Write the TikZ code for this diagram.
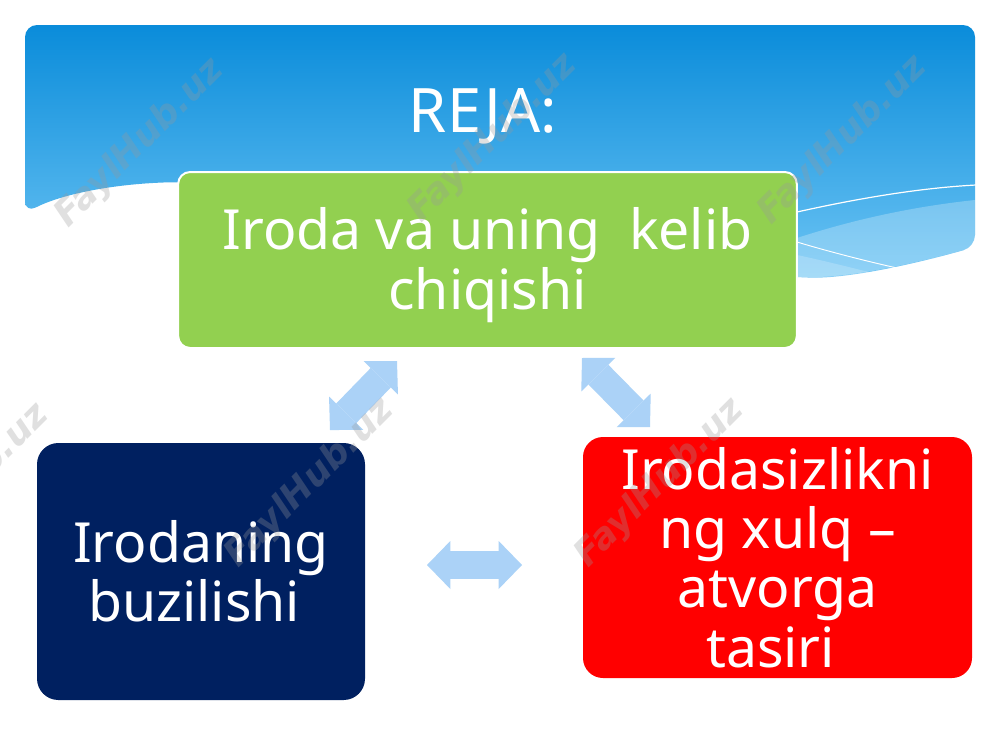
\documentclass[tikz,border=0pt]{standalone}
\usepackage{fontspec}
\setmainfont{Noto Sans}
\newfontfamily\wmfont{DejaVu Sans}
\usetikzlibrary{arrows.meta}
\definecolor{hdrtop}{HTML}{0A8CDA}
\definecolor{hdrbot}{HTML}{6CC4F4}
\definecolor{boxgreen}{HTML}{92D050}
\definecolor{boxnavy}{HTML}{002060}
\definecolor{boxred}{HTML}{FF0000}
\definecolor{arrowblue}{HTML}{ABD2F7}
\definecolor{wmgray}{HTML}{999999}
\begin{document}
\begin{tikzpicture}[x=0.75pt,y=-0.75pt,
  box/.style={rounded corners=#1, inner sep=0pt, align=center, text=white,
    font=\fontsize{41.5}{44.5}\selectfont},
  fatarrow/.style={draw=arrowblue, line width=21pt, <->,
    >={Triangle[width=36pt,length=17.5pt,line width=0pt]}},
  watermark/.style={text=wmgray, opacity=0.3, rotate=45,
    font=\wmfont\fontsize{27}{27}\selectfont\bfseries\itshape}
]
\clip (0,0) rectangle (1000,750);
\fill[white] (0,0) rectangle (1000,750);
% header
\shade[top color=hdrtop, bottom color=hdrbot, rounded corners=9pt]
  (25,213) -- (25,25) -- (975,25) -- (975,247)
  .. controls (900,268) and (840,279) .. (797,277)
  .. controls (600,272) and (350,200) .. (180,182)
  .. controls (110,184) and (60,195) .. (25,213) -- cycle;
\fill[white, opacity=0.25] (975,200) .. controls (900,208) and (840,224) .. (797,238)
  -- (797,277) .. controls (840,279) and (900,268) .. (975,247) -- cycle;
\fill[white, opacity=0.2] (797,255) .. controls (830,262) and (860,270) .. (885,276)
  .. controls (850,279) and (820,278) .. (797,277) -- cycle;
\draw[white, line width=0.9pt] (797,212) .. controls (860,198) and (920,188) .. (976,185);
\draw[white, line width=0.7pt] (797,242) .. controls (830,252) and (870,262) .. (897,268);
% title
\node[font=\fontsize{46}{50}\selectfont, text=white, anchor=base] (title) at (483,132) {REJA:};
% boxes
\node[box=9pt, fill=boxgreen, draw=white, line width=1.5pt,
  minimum width=464pt, minimum height=132pt] (green) at (487.5,260)
  {\rule{0pt}{39pt}Iroda va uning\ \ kelib\\chiqishi};
\node[box=16pt, fill=boxnavy, minimum width=246pt, minimum height=192.75pt]
  (navy) at (201,571.5) {Irodaning\\buzilishi\hspace*{0.25em}};
\node[box=15pt, fill=boxred, minimum width=291.75pt, minimum height=180.75pt]
  (red) at (777.5,557.5)
  {Irodasizlikni\\ng xulq –\\atvorga\hspace*{0.55em}\\tasiri\hspace*{0.25em}};
% arrows
\coordinate (a1s) at (330,430); \coordinate (a1e) at (397,361);
\coordinate (a2s) at (582,358); \coordinate (a2e) at (650,427);
\coordinate (a3s) at (427,565); \coordinate (a3e) at (522,565);
\draw[fatarrow] (a1s) -- (a1e);
\draw[fatarrow] (a2s) -- (a2e);
\draw[fatarrow] (a3s) -- (a3e);
% watermarks
\node[watermark] (wm1) at (140,143) {FaylHub.uz};
\node[watermark] (wm2) at (493,138) {FaylHub.uz};
\node[watermark] (wm3) at (843,140) {FaylHub.uz};
\node[watermark] (wm4) at (-35,488) {FaylHub.uz};
\node[watermark] (wm5) at (310,483) {FaylHub.uz};
\node[watermark] (wm6) at (660,483) {FaylHub.uz};
\end{tikzpicture}
\end{document}
